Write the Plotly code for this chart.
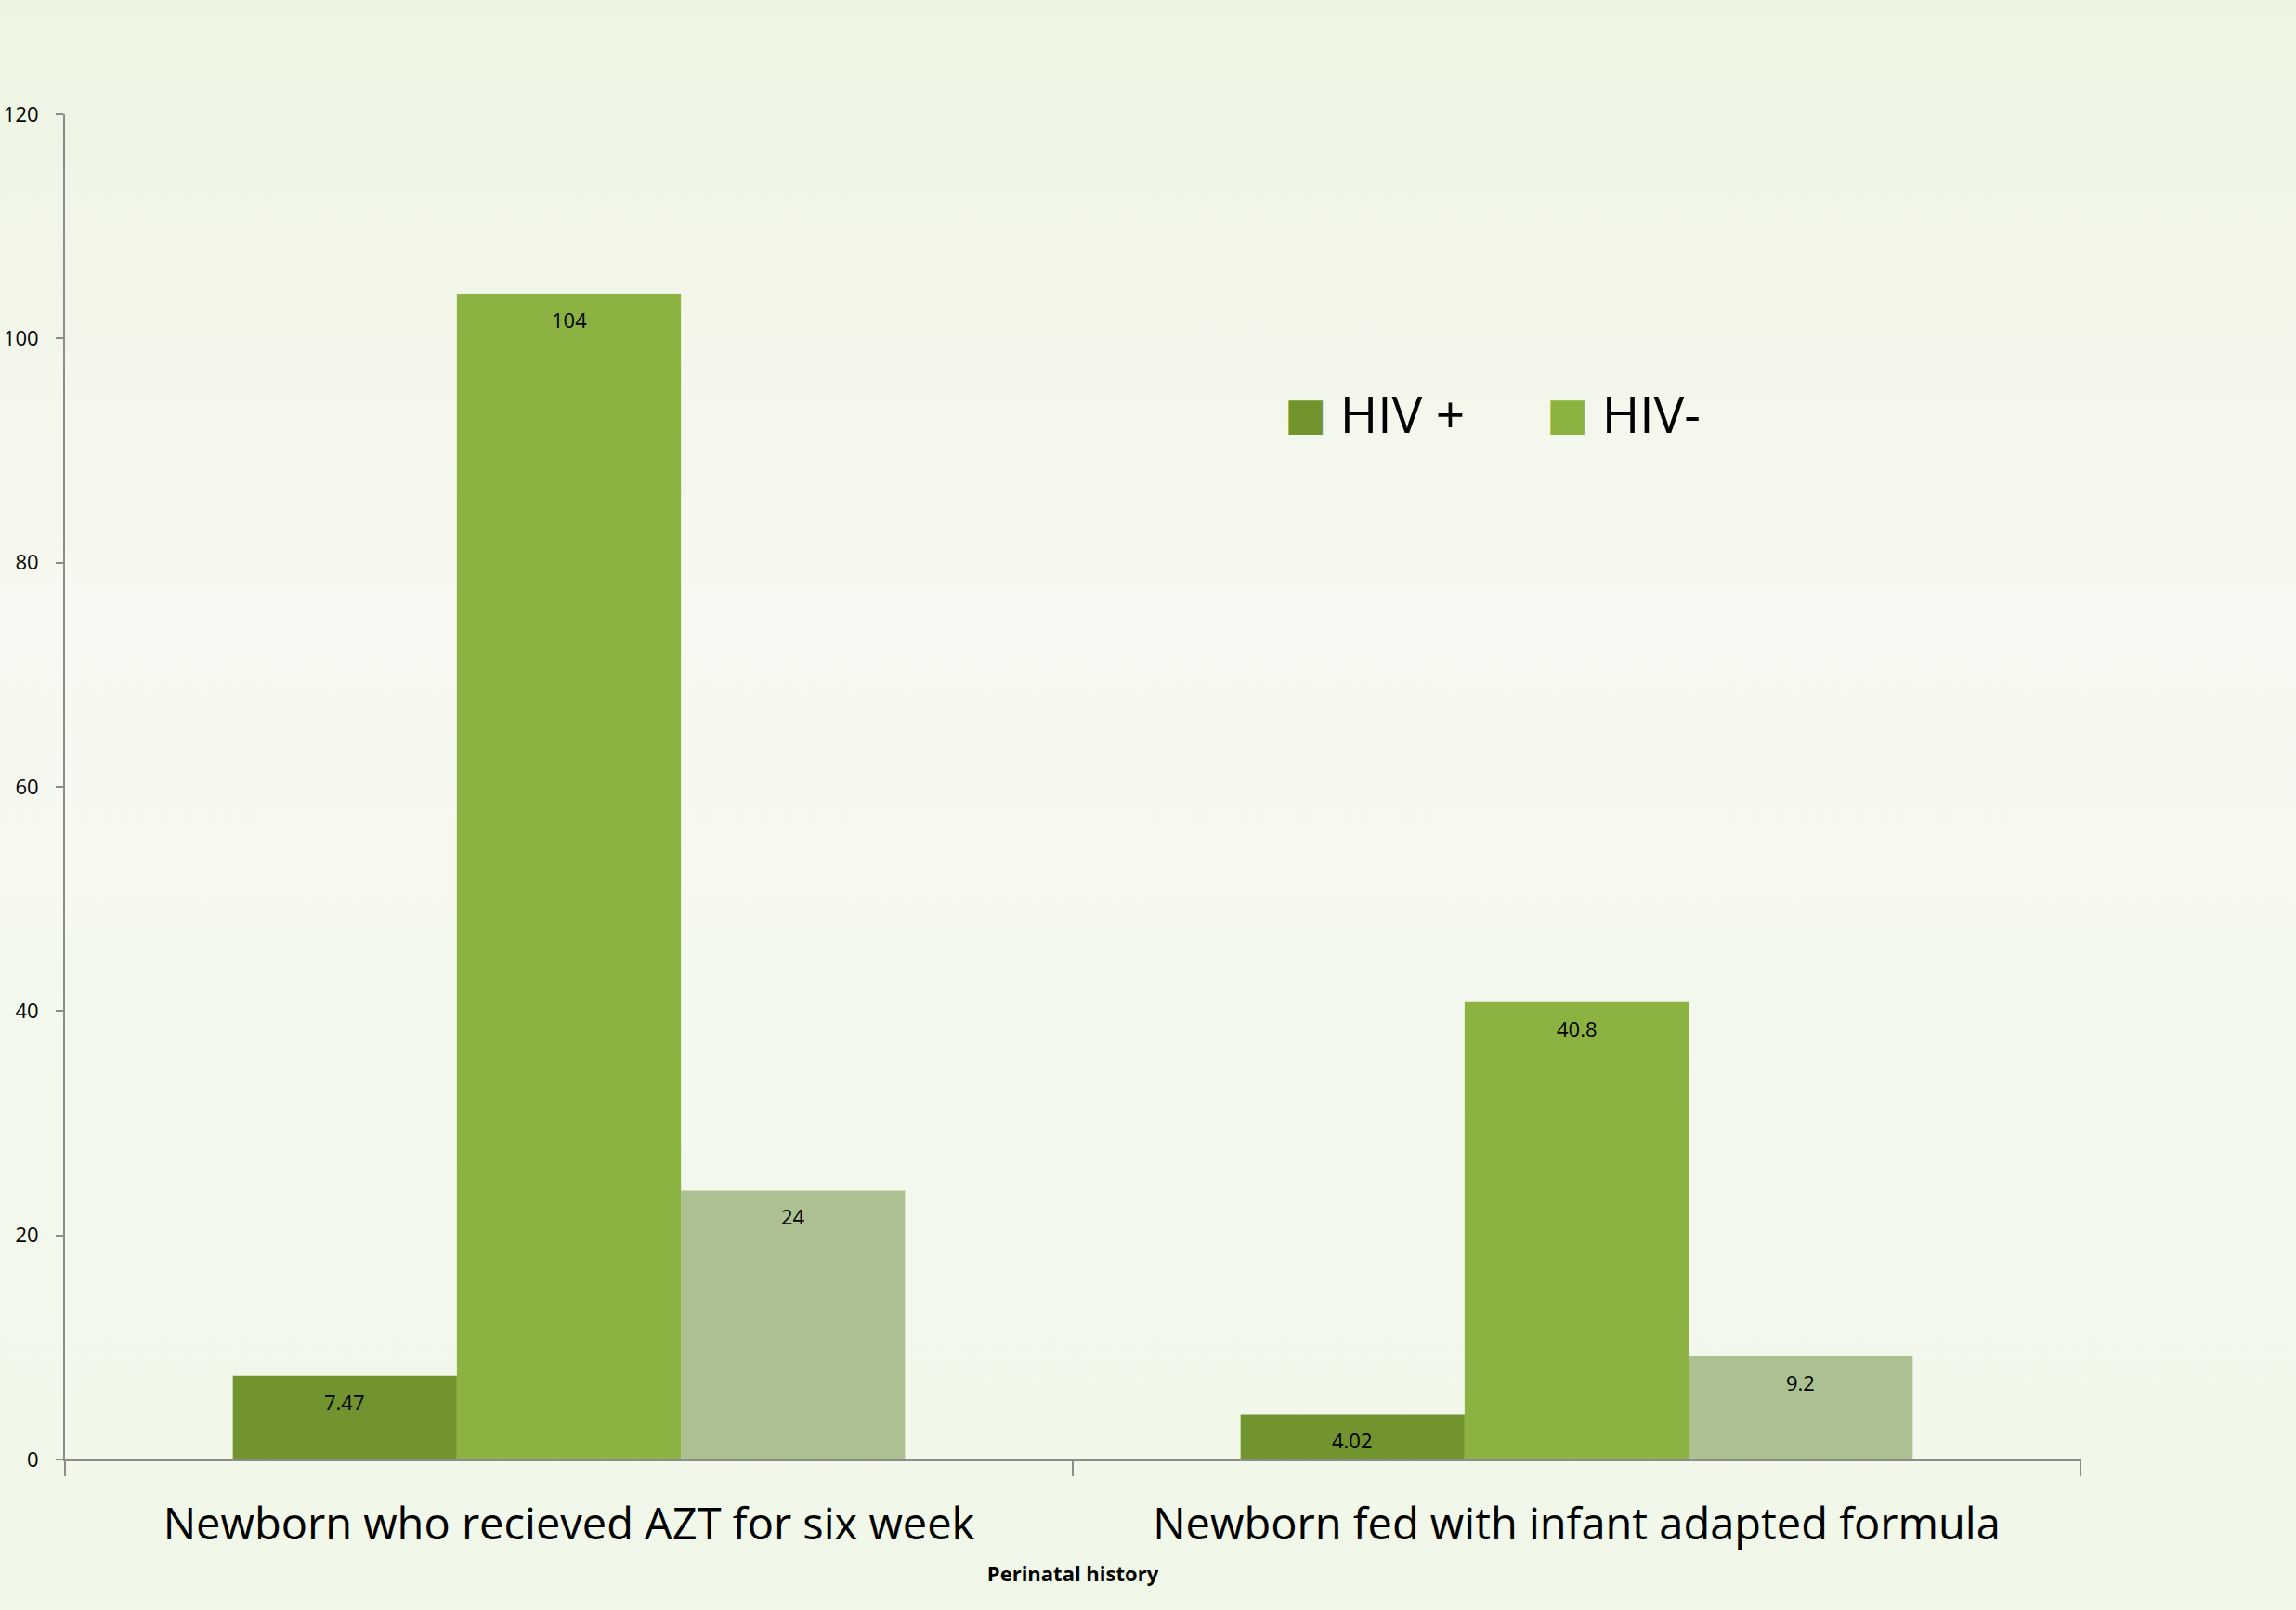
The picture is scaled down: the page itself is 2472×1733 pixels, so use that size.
import base64
import plotly.graph_objects as go

categories = ["Newborn who recieved AZT for six week", "Newborn fed with infant adapted formula"]
series_names = ["HIV +", "HIV-", ""]
hiv_pos = [7.47, 4.02]
hiv_neg = [104, 40.8]
third_series = [24, 9.2]
y_ticks = [0, 20, 40, 60, 80, 100, 120]

FONT = "Open Sans"
colors = ["#71942f", "#8cb342", "#adc092"]
values = [hiv_pos, hiv_neg, third_series]

W, H = 2472, 1733
ML, MR, MT, MB = 70, 232, 123, 162
BARGAP = 0.333
plot_w = W - ML - MR
plot_h = H - MT - MB
bar_px = plot_w / len(categories) * (1 - BARGAP) / len(values)

fig = go.Figure()
for name, vals, col, show in zip(series_names, values, colors, [True, True, False]):
    fig.add_trace(go.Bar(
        x=categories, y=vals, name=name, showlegend=show,
        marker=dict(color=col, line=dict(width=0)),
        hoverinfo="x+y",
    ))

# value labels inside the top of each bar
for i, vals in enumerate(values):
    for cat, v in zip(categories, vals):
        fig.add_annotation(
            x=cat, y=v, xref="x", yref="y", text=f"{v:g}", showarrow=False,
            xshift=(i - (len(values) - 1) / 2) * bar_px, yshift=-28,
            xanchor="center", yanchor="middle",
            font=dict(family=FONT, size=22, color="black"),
        )

# legend (large square keys)
legend_x = [(1381 - ML) / plot_w, (1663 - ML) / plot_w]
legend_y = (H - MB - 444) / plot_h
for name, col, lx in zip(series_names[:2], colors[:2], legend_x):
    fig.add_annotation(
        x=lx, y=legend_y, xref="paper", yref="paper", showarrow=False,
        xanchor="left", yanchor="middle",
        text=f"<span style='color:{col};font-family:DejaVu Sans;font-size:48px;baseline-shift:4px'>■</span> {name}",
        font=dict(family=FONT, size=55, color="black"),
    )

# soft page background gradient
svg = (
    "<svg xmlns='http://www.w3.org/2000/svg' width='10' height='100' preserveAspectRatio='none'>"
    "<defs><linearGradient id='g' x1='0' y1='0' x2='0' y2='1'>"
    "<stop offset='0' stop-color='#edf5e2'/><stop offset='0.38' stop-color='#f7f8f1'/>"
    "<stop offset='0.6' stop-color='#f4f9ef'/><stop offset='1' stop-color='#f1f7e8'/>"
    "</linearGradient></defs><rect width='10' height='100' fill='url(#g)'/></svg>"
)
bg_src = "data:image/svg+xml;base64," + base64.b64encode(svg.encode()).decode()
fig.add_layout_image(
    source=bg_src, xref="paper", yref="paper",
    x=-ML / plot_w, y=1 + MT / plot_h, sizex=W / plot_w, sizey=H / plot_h,
    xanchor="left", yanchor="top", sizing="stretch", layer="below",
)

fig.update_layout(
    width=W, height=H,
    margin=dict(l=ML, r=MR, t=MT, b=MB, autoexpand=False),
    paper_bgcolor="#f3f8ec", plot_bgcolor="rgba(0,0,0,0)",
    barmode="group", bargap=BARGAP, bargroupgap=0,
    font=dict(family=FONT, color="black"),
    showlegend=False,
    xaxis=dict(
        showline=True, linecolor="#8c8c8c", linewidth=2,
        ticks="outside", tickson="boundaries", ticklen=16, tickcolor="#8c8c8c", tickwidth=2,
        tickfont=dict(family=FONT, size=47, color="black"),
        ticklabelstandoff=28,
        showgrid=False, zeroline=False,
        title=dict(text="<b>Perinatal history</b>", font=dict(family=FONT, size=22, color="black"), standoff=16),
    ),
    yaxis=dict(
        range=[0, 120], tickvals=y_ticks, ticktext=[str(v) for v in y_ticks],
        showline=True, linecolor="#8c8c8c", linewidth=2,
        ticks="outside", ticklen=8, tickcolor="#8c8c8c", tickwidth=2,
        tickfont=dict(family=FONT, size=22, color="black"),
        ticklabelstandoff=14,
        showgrid=False, zeroline=False,
    ),
)

fig.write_html(
    "out.html",
    config={"displayModeBar": False},
    post_script="document.body.style.margin='0';document.body.style.overflow='hidden';",
)
